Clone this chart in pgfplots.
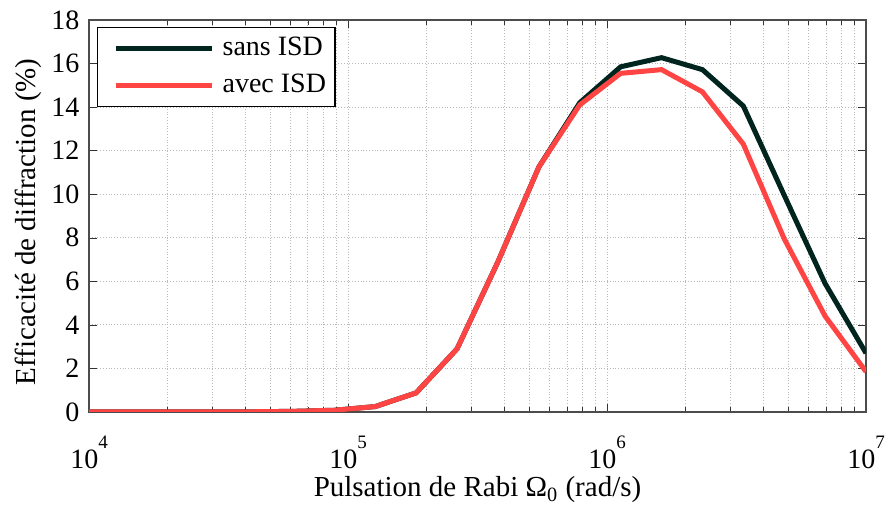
\documentclass[border=0pt]{standalone}
\usepackage{fontspec}
\setmainfont{Liberation Serif}
\usepackage{pgfplots}
\usepackage{pgfplotstable}
\pgfplotsset{compat=1.18}
\definecolor{sanscol}{RGB}{0,36,30}
\definecolor{aveccol}{RGB}{255,68,68}
\pgfplotstableread{
x y
10000 0
14384 0
20691 0
29764 0
42813 0.01
61585 0.03
88587 0.08
127427 0.25
183298 0.88
263665 2.9
379269 6.9
545559 11.25
784760 14.2
1128838 15.85
1623777 16.27
2335721 15.72
3359818 14.05
4832930 9.95
6951928 5.9
10000000 2.7
}\sansisd
\pgfplotstableread{
x y
10000 0
14384 0
20691 0
29764 0
42813 0.01
61585 0.03
88587 0.08
127427 0.25
183298 0.88
263665 2.9
379269 6.9
545559 11.25
784760 14.1
1128838 15.55
1623777 15.72
2335721 14.7
3359818 12.3
4832930 7.95
6951928 4.4
10000000 1.85
}\avecisd
\newcommand{\pw}[1]{10\raisebox{10pt}{\fontsize{9.5}{11}\selectfont #1}}
\begin{document}
\fontsize{14}{16}\selectfont
\begin{tikzpicture}
\begin{axis}[
  name=ax,
  scale only axis, width=388.5pt, height=196pt,
  xmode=log, xmin=1e4, xmax=1e7, ymin=0, ymax=18,
  ytick={0,2,...,18},
  xtick={1e4,1e5,1e6,1e7},
  xticklabels={\pw{4},\pw{5},\pw{6},\pw{7}},
  /pgf/number format/assume math mode=true,
  tick label style={font=\fontsize{14}{16}\selectfont},
  xticklabel style={anchor=base, yshift=-28.4pt},
  xmajorgrids, xminorgrids, ymajorgrids,
  major grid style={densely dotted, gray!55},
  minor grid style={densely dotted, gray!55},
  axis line style={black!70, line width=0.6pt},
  tick style={black!80},
  major tick length=4pt, minor tick length=2.5pt,
  tick align=inside,
  xlabel={Pulsation de Rabi Ω\textsubscript{0} (rad/s)},
  ylabel={Efficacité de diffraction (\%)},
  label style={font=\fontsize{14.5}{16}\selectfont},
  xlabel style={at={(axis description cs:0.5,0)}, anchor=base, yshift=-42.5pt},
  ylabel style={at={(axis description cs:-0.0695,0.485)}, anchor=base, rotate=0},
  legend cell align=left,
  legend style={at={(0.0103,0.983)}, anchor=north west, draw=black, line width=0.6pt,
    inner xsep=2.5pt, inner ysep=3pt, row sep=3pt, font=\fontsize{14}{16}\selectfont},
  legend image code/.code={\path (-5.5pt,0pt); \draw[#1, line width=2.5pt] (0pt,0pt) -- (48pt,0pt); \path (50pt,0pt);},
]
\addplot[sanscol, line width=2.5pt] table[x=x,y=y] {\sansisd};
\addlegendentry{sans ISD}
\addplot[aveccol, line width=2.5pt] table[x=x,y=y] {\avecisd};
\addlegendentry{avec ISD}
\end{axis}
\pgfresetboundingbox
\path[use as bounding box] ([xshift=-44.5pt,yshift=-47pt]ax.south west) rectangle ([xshift=10pt,yshift=10pt]ax.north east);
\end{tikzpicture}
\end{document}
